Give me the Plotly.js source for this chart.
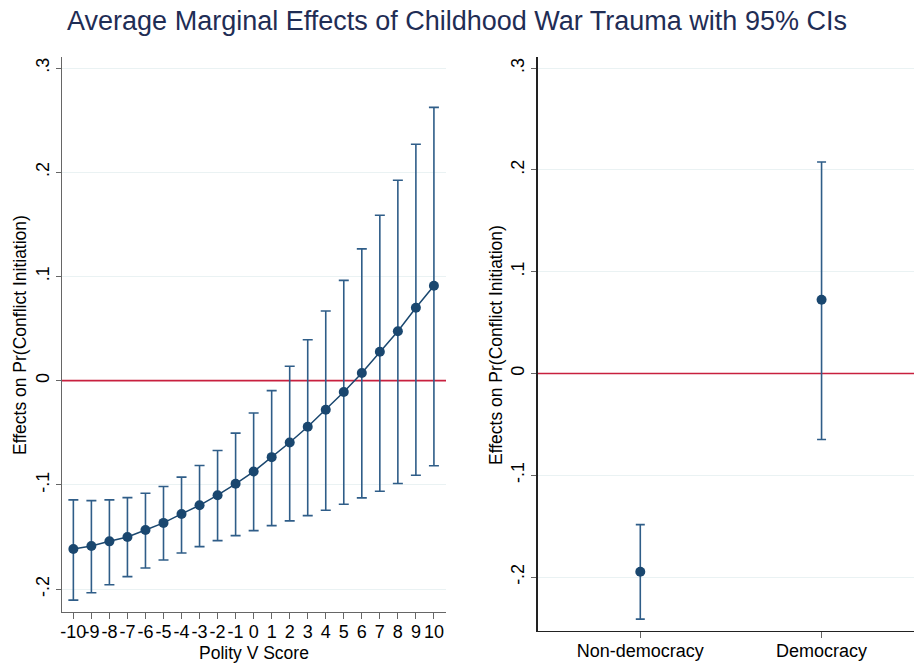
<!DOCTYPE html>
<html>
<head>
<meta charset="utf-8">
<script src="https://cdn.plot.ly/plotly-3.0.1.min.js"></script>
<style>html,body{margin:0;padding:0;background:#fff;}#chart{width:914px;height:664px;}</style>
</head>
<body>
<div id="chart"></div>
<script>
// Left panel: AME by Polity V score
const polityScores = [-10,-9,-8,-7,-6,-5,-4,-3,-2,-1,0,1,2,3,4,5,6,7,8,9,10];
const polityTickText = ["-10","-9","-8","-7","-6","-5","-4","-3","-2","-1","0","1","2","3","4","5","6","7","8","9","10"];
const polityEffect = [-0.1615,-0.1587,-0.1542,-0.1500,-0.1433,-0.1365,-0.1279,-0.1196,-0.1099,-0.0990,-0.0872,-0.0734,-0.0593,-0.0442,-0.0279,-0.0109,0.0074,0.0277,0.0475,0.0700,0.0911];
const polityUpper  = [-0.1144,-0.1151,-0.1144,-0.1122,-0.1080,-0.1016,-0.0926,-0.0814,-0.0670,-0.0503,-0.0311,-0.0096,0.0138,0.0393,0.0668,0.0962,0.1265,0.1588,0.1923,0.2268,0.2623];
const polityLower  = [-0.2106,-0.2035,-0.1958,-0.1881,-0.1798,-0.1721,-0.1654,-0.1593,-0.1535,-0.1487,-0.1439,-0.1391,-0.1346,-0.1295,-0.1244,-0.1186,-0.1125,-0.1061,-0.0987,-0.0907,-0.0817];

// Right panel: AME by regime type
const regimeCategories = ["Non-democracy","Democracy"];
const regimeEffect = [-0.1948, 0.0725];
const regimeUpper  = [-0.1485, 0.2079];
const regimeLower  = [-0.2413, -0.0649];

const yTickVals = [-0.2,-0.1,0,0.1,0.2,0.3];
const yTickText = ["-.2","-.1","0",".1",".2",".3"];

const titleText = "Average Marginal Effects of Childhood War Trauma with 95% CIs";
const yTitleText = "Effects on Pr(Conflict Initiation)";
const xTitleText = "Polity V Score";

const navy = "#1a476f";
const barColor = "#2f5d88";
const refRed = "#c8203f";
const font = "Liberation Sans, Arial, Helvetica, sans-serif";

const W = 914, H = 664;
const px = v => v / W;
const py = v => 1 - v / H;

const xRange1 = [-10.63, 10.67];
const xRange2 = [-0.566, 1.51];

const traces = [
  // zero reference lines (drawn first so they sit under the estimates)
  {
    x: xRange1, y: [0, 0], xaxis: "x", yaxis: "y", type: "scatter", mode: "lines",
    line: {color: refRed, width: 1.6}, showlegend: false, hoverinfo: "skip", cliponaxis: false
  },
  {
    x: xRange2, y: [0, 0], xaxis: "x2", yaxis: "y2", type: "scatter", mode: "lines",
    line: {color: refRed, width: 1.6}, showlegend: false, hoverinfo: "skip", cliponaxis: false
  },
  {
    x: polityScores, y: polityEffect, xaxis: "x", yaxis: "y",
    type: "scatter", mode: "lines+markers",
    line: {color: navy, width: 1.5},
    marker: {color: navy, size: 10},
    error_y: {
      type: "data", symmetric: false,
      array: polityUpper.map((u, i) => u - polityEffect[i]),
      arrayminus: polityEffect.map((e, i) => e - polityLower[i]),
      color: barColor, thickness: 1.6, width: 5
    },
    showlegend: false, hoverinfo: "x+y"
  },
  {
    x: [0, 1], y: regimeEffect, xaxis: "x2", yaxis: "y2",
    type: "scatter", mode: "markers",
    marker: {color: navy, size: 10},
    error_y: {
      type: "data", symmetric: false,
      array: regimeUpper.map((u, i) => u - regimeEffect[i]),
      arrayminus: regimeEffect.map((e, i) => e - regimeLower[i]),
      color: barColor, thickness: 1.6, width: 4.5
    },
    showlegend: false, hoverinfo: "y"
  }
];

const commonY = {
  tickvals: yTickVals, ticktext: yTickText, tickangle: -90,
  showgrid: true, gridcolor: "#eaf2f3", gridwidth: 1,
  zeroline: false, showline: true, ticks: "outside", ticklen: 5,
  tickfont: {family: font, size: 18, color: "#000"},
  automargin: false
};

const layout = {
  width: W, height: H,
  margin: {l: 0, r: 0, t: 0, b: 0},
  paper_bgcolor: "#fff", plot_bgcolor: "#fff",
  font: {family: font, color: "#000"},
  title: {text: titleText, font: {family: font, size: 27, color: "#1f2d55"},
          x: 0.5, xanchor: "center", y: py(21), yanchor: "middle"},
  xaxis: {
    domain: [px(62), px(446)], anchor: "y",
    range: xRange1, tickvals: polityScores, ticktext: polityTickText, tickangle: 0,
    showgrid: false, zeroline: false, showline: true, linecolor: "#666", linewidth: 1.3,
    ticks: "outside", ticklen: 6, tickcolor: "#666", ticklabelstandoff: -3,
    tickfont: {family: font, size: 18, color: "#000"}, automargin: false
  },
  yaxis: Object.assign({}, commonY, {
    domain: [py(612), py(57)], anchor: "x",
    range: [-0.222, 0.3106], linecolor: "#666", linewidth: 1.3, tickcolor: "#666"
  }),
  xaxis2: {
    domain: [px(537.7), 1], anchor: "y2",
    range: xRange2, tickvals: [0, 1], ticktext: regimeCategories, tickangle: 0,
    showgrid: false, zeroline: false, showline: true, linecolor: "#222", linewidth: 1.3,
    ticks: "outside", ticklen: 6, tickcolor: "#666", ticklabelstandoff: -3,
    tickfont: {family: font, size: 18, color: "#000"}, automargin: false
  },
  yaxis2: Object.assign({}, commonY, {
    domain: [py(631), py(57)], anchor: "x2",
    range: [-0.253, 0.311], linecolor: "#222", linewidth: 1.3, tickcolor: "#666"
  }),
  annotations: [
    {text: yTitleText, xref: "paper", yref: "paper", x: px(20), y: py(335),
     textangle: -90, showarrow: false, xanchor: "center", yanchor: "middle",
     font: {family: font, size: 17.5, color: "#000"}},
    {text: yTitleText, xref: "paper", yref: "paper", x: px(496), y: py(345),
     textangle: -90, showarrow: false, xanchor: "center", yanchor: "middle",
     font: {family: font, size: 17.5, color: "#000"}},
    {text: xTitleText, xref: "paper", yref: "paper", x: px(254), y: py(653),
     showarrow: false, xanchor: "center", yanchor: "middle",
     font: {family: font, size: 17.5, color: "#000"}}
  ]
};

Plotly.newPlot("chart", traces, layout, {staticPlot: true, displayModeBar: false});
</script>
</body>
</html>
